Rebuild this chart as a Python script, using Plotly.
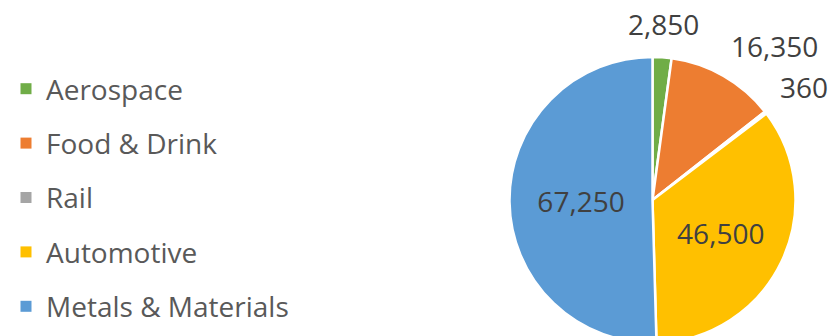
import math
import plotly.graph_objects as go

categories = ["Aerospace", "Food & Drink", "Rail", "Automotive", "Metals & Materials"]
values = [2850, 16350, 360, 46500, 67250]
colors = ["#70AD47", "#ED7D31", "#A5A5A5", "#FFC000", "#5B9BD5"]
outside = [True, True, True, False, False]

W, H = 831, 350
CX, CY, R = 652.5, 200.0, 143.0  # pie centre / radius in pixels (from top-left)
LABEL_GAP = 20.0   # gap between rim and the nearest corner of the label glyphs
PAD_X, PAD_Y = 4.0, 8.0  # annotation box padding around the glyphs
FONT = "Open Sans"

fig = go.Figure()
fig.add_trace(go.Pie(
    labels=categories,
    values=values,
    marker=dict(colors=colors, line=dict(color="white", width=2.5)),
    sort=False,
    direction="clockwise",
    rotation=0,
    textinfo="value",
    texttemplate="%{value:,}",
    textposition=["none" if o else "inside" for o in outside],
    insidetextorientation="horizontal",
    textfont=dict(family=FONT, size=28, color="#404040"),
    showlegend=False,
    hoverinfo="label+value",
    domain=dict(x=[(CX - R) / W, (CX + R) / W], y=[(H - CY - R) / H, (H - CY + R) / H]),
))

# outside data labels, placed along each slice's bisector just outside the rim
total = sum(values)
cum = 0.0
for v, o in zip(values, outside):
    mid = (cum + v / 2) / total * 2 * math.pi
    cum += v
    if not o:
        continue
    s, c = math.sin(mid), math.cos(mid)
    px = CX + (R + LABEL_GAP) * s
    py = CY - (R + LABEL_GAP) * c
    if abs(s) < 0.25:
        xa = "center"
    elif s > 0:
        xa, px = "left", px - PAD_X
    else:
        xa, px = "right", px + PAD_X
    if abs(c) < 0.25:
        ya = "middle"
    elif c > 0:
        ya, py = "bottom", py + PAD_Y
    else:
        ya, py = "top", py - PAD_Y
    fig.add_annotation(
        x=px / W, y=(H - py) / H, xref="paper", yref="paper",
        text=f"{v:,}", showarrow=False, xanchor=xa, yanchor=ya,
        font=dict(family=FONT, size=28, color="#404040"),
    )

for cat, col in zip(categories, colors):
    fig.add_trace(go.Scatter(
        x=[None], y=[None], mode="markers", name=cat, legendgroup=cat,
        marker=dict(symbol="square", size=11, color=col),
    ))

fig.update_layout(
    width=W, height=H,
    margin=dict(l=0, r=0, t=0, b=0),
    paper_bgcolor="white", plot_bgcolor="white",
    xaxis=dict(visible=False), yaxis=dict(visible=False),
    legend=dict(
        x=6 / W, xanchor="left", y=(H - 64) / H, yanchor="top",
        font=dict(family=FONT, size=28, color="#595959"),
        tracegroupgap=15, itemwidth=30,
        bgcolor="rgba(0,0,0,0)",
    ),
)

fig.write_html(
    "out.html",
    config={"displayModeBar": False},
    post_script="document.body.style.margin='0';document.body.style.overflow='hidden';",
)
